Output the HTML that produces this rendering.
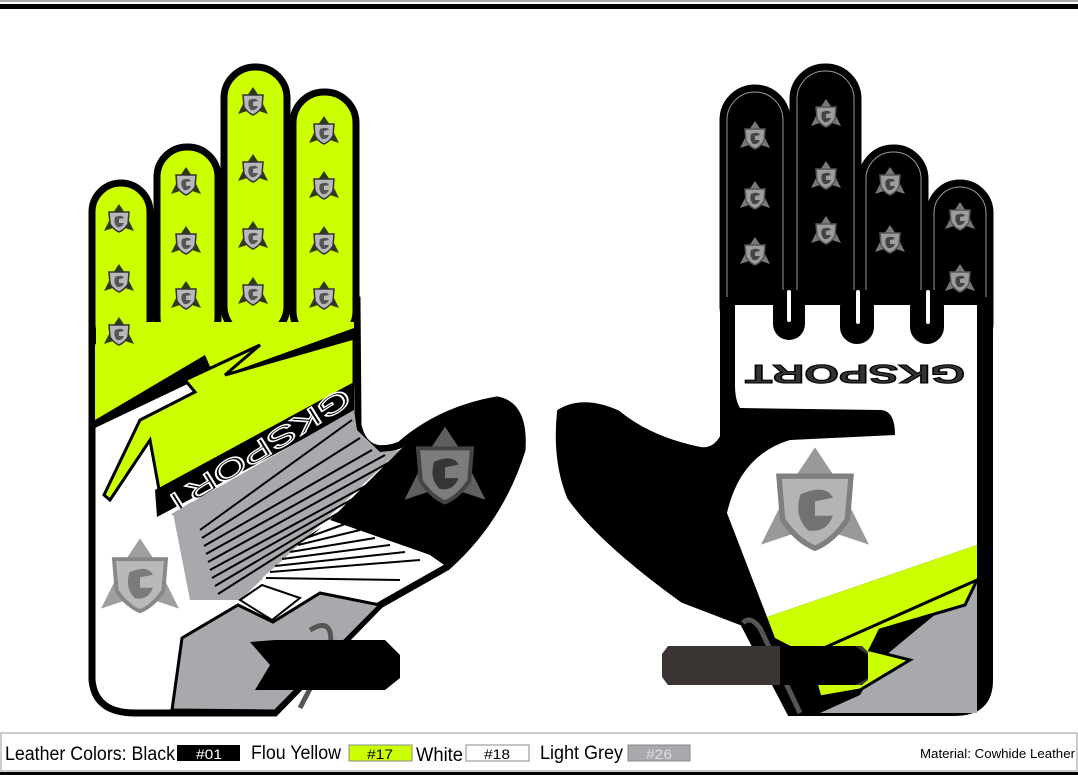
<!DOCTYPE html>
<html><head><meta charset="utf-8"><style>
html,body{margin:0;padding:0;background:#fff;}
body{width:1078px;height:775px;overflow:hidden;position:relative;font-family:"Liberation Sans",sans-serif;}
</style></head><body>
<svg width="1078" height="775" viewBox="0 0 1078 775" style="position:absolute;left:0;top:0">
<defs>
<g id="ic">
 <polygon points="0,-16 6,-7 15,11 0,6 -15,11 -6,-7" fill="#2f3a12"/>
 <path d="M-10,-8 L10,-8 L9,4 Q5,10 0,12 Q-5,10 -9,4 Z" fill="#b9b9bb" stroke="#333" stroke-width="1.5"/>
 <path d="M-4,-3 Q3,-6 5,-2 L0,-1 L0,3 L5,3 Q3,8 -2,7 Q-6,3 -4,-3Z" fill="#555"/>
</g>
<g id="ic2">
 <polygon points="0,-16 6,-7 15,11 0,6 -15,11 -6,-7" fill="#777"/>
 <path d="M-10,-8 L10,-8 L9,4 Q5,10 0,12 Q-5,10 -9,4 Z" fill="#9c9c9e" stroke="#555" stroke-width="1.5"/>
 <path d="M-4,-3 Q3,-6 5,-2 L0,-1 L0,3 L5,3 Q3,8 -2,7 Q-6,3 -4,-3Z" fill="#444"/>
</g>
</defs>
<rect x="0" y="0" width="1078" height="2" fill="#aaa"/>
<rect x="0" y="4" width="1078" height="5" fill="#000"/>

<!-- LEFT GLOVE -->
<path d="M92,300 L92,680 Q95,713 135,713 L275,713 L380,605 L447,567 Q500,520 522,450 Q525,405 497,400 Q440,410 400,445 Q365,458 358,425 L357,300 Z" fill="#fff" stroke="#000" stroke-width="7"/>
<polygon points="95,300 354,300 354,330 215,378 205,355 95,420" fill="#ccff00"/>
<g stroke="#000" stroke-width="7" fill="#ccff00">
 <rect x="92" y="183" width="58" height="170" rx="29"/>
 <rect x="157" y="147" width="61" height="200" rx="30"/>
 <rect x="224" y="67" width="63" height="270" rx="31"/>
 <rect x="293" y="92" width="63" height="250" rx="31"/>
</g>
<rect x="96" y="322" width="258" height="30" fill="#ccff00"/>
<polygon points="95,352 354,352 354,330 215,378 205,355 95,420" fill="#ccff00"/>
<polygon points="95,420 205,355 215,378 354,328 354,338 227,388 217,370 95,428" fill="#000"/>
<polygon points="354,338 354,385 160,495 150,440 110,500 104,495 140,420 195,392 185,380 260,345 225,375 354,338" fill="#ccff00" stroke="#000" stroke-width="3"/>
<g transform="translate(140,580) scale(2.6)"><use href="#ic2" opacity="0.7"/></g>
<polygon points="155,490 354,382 354,412 157,517" fill="#000"/>
<text x="0" y="0" transform="translate(256,450) rotate(148)" font-size="27" fill="#000" stroke="#fff" stroke-width="1.3" text-anchor="middle" dominant-baseline="middle" textLength="215" lengthAdjust="spacingAndGlyphs">GKSPORT</text>
<polygon points="173,513 354,410 357,430 380,452 400,450 240,600 225,600 190,600" fill="#a7a9ac"/>
<g stroke="#000" stroke-width="2">
 <line x1="200" y1="530" x2="352" y2="420"/><line x1="202" y1="538" x2="360" y2="438"/>
 <line x1="204" y1="546" x2="372" y2="450"/><line x1="206" y1="554" x2="385" y2="455"/>
 <line x1="208" y1="562" x2="390" y2="462"/><line x1="210" y1="570" x2="380" y2="478"/>
 <line x1="212" y1="578" x2="365" y2="492"/><line x1="215" y1="586" x2="350" y2="506"/>
 <line x1="218" y1="594" x2="335" y2="520"/>
</g>
<path d="M400,450 Q440,410 497,400 Q525,405 522,450 Q500,520 447,567 L430,555 L330,520 Z" fill="#000"/>
<g transform="translate(445,470) scale(2.7)"><use href="#ic2" opacity="0.8"/></g>
<polygon points="262,578 330,520 430,555 380,590" fill="#fff"/>
<g stroke="#000" stroke-width="2">
 <line x1="270" y1="572" x2="420" y2="560"/><line x1="275" y1="566" x2="405" y2="552"/>
 <line x1="282" y1="559" x2="390" y2="545"/><line x1="290" y1="552" x2="375" y2="538"/>
 <line x1="298" y1="545" x2="360" y2="530"/><line x1="306" y1="538" x2="345" y2="524"/>
 <line x1="266" y1="578" x2="400" y2="580"/>
</g>
<polygon points="240,600 262,585 300,598 272,620" fill="#fff" stroke="#000" stroke-width="2"/>
<polygon points="172,710 182,638 238,605 273,622 320,593 380,605 275,711" fill="#a7a9ac" stroke="#000" stroke-width="3"/>
<path d="M310,630 Q335,615 330,650 L300,708" fill="none" stroke="#555" stroke-width="5"/>
<polygon points="250,642 275,640 385,640 400,655 400,678 385,690 255,690 270,665" fill="#000"/>

<g>
<use href="#ic" x="119" y="220"/><use href="#ic" x="119" y="280"/><use href="#ic" x="119" y="333"/>
<use href="#ic" x="186" y="183"/><use href="#ic" x="186" y="242"/><use href="#ic" x="186" y="297"/>
<use href="#ic" x="253" y="103"/><use href="#ic" x="253" y="170"/><use href="#ic" x="253" y="237"/><use href="#ic" x="253" y="293"/>
<use href="#ic" x="324" y="132"/><use href="#ic" x="324" y="187"/><use href="#ic" x="324" y="242"/><use href="#ic" x="324" y="297"/>
</g>

<!-- RIGHT GLOVE -->
<g stroke="#000" stroke-width="7" fill="#000">
 <rect x="723" y="88" width="64" height="250" rx="32"/>
 <rect x="793" y="67" width="65" height="270" rx="32"/>
 <rect x="862" y="148" width="63" height="200" rx="31"/>
 <rect x="930" y="183" width="60" height="170" rx="30"/>
</g>
<g stroke="#fff" stroke-width="1" fill="none" opacity="0.6">
 <rect x="727" y="92" width="56" height="230" rx="28"/>
 <rect x="797" y="71" width="57" height="250" rx="28"/>
 <rect x="866" y="152" width="55" height="170" rx="27"/>
 <rect x="934" y="187" width="52" height="150" rx="26"/>
</g>
<path d="M723,300 L723,437 Q715,452 700,450 Q650,440 617,413 Q583,398 560,412 Q555,460 570,497 Q600,540 683,600 L743,623 L790,713 L955,713 Q990,713 990,680 L990,300 Z" fill="#000" stroke="#000" stroke-width="6"/>
<path d="M735,305 L977,305 L977,545 L767,617 L727,513 Q740,455 790,440 L895,435 Q895,410 880,410 L740,408 Q735,400 735,385 Z" fill="#fff"/>
<g fill="#000">
 <rect x="735" y="290" width="242" height="14"/>
 <rect x="773" y="290" width="32" height="50" rx="16"/>
 <rect x="840" y="290" width="34" height="54" rx="17"/>
 <rect x="910" y="290" width="34" height="54" rx="17"/>
</g>
<g fill="#fff"><rect x="787" y="290" width="4" height="32" rx="2"/><rect x="856" y="290" width="4" height="34" rx="2"/><rect x="926" y="290" width="4" height="34" rx="2"/></g>
<text x="0" y="0" transform="translate(855,372) rotate(180)" font-size="26" font-weight="bold" fill="#333" stroke="#000" stroke-width="1" text-anchor="middle" dominant-baseline="middle" textLength="220" lengthAdjust="spacingAndGlyphs">GKSPORT</text>
<g transform="translate(815,505) scale(3.6)"><use href="#ic2" opacity="0.75"/></g>
<polygon points="977,545 977,580 808,655 775,638 767,617" fill="#ccff00"/>
<polygon points="977,580 977,713 820,713 860,695 880,660" fill="#a7a9ac"/>
<polygon points="808,655 977,580 965,605 880,630 870,650 910,660 860,690 820,697" fill="#ccff00" stroke="#000" stroke-width="3"/>
<path d="M743,623 Q750,615 760,628 L800,713" fill="none" stroke="#555" stroke-width="5"/>
<polygon points="668,646 862,646 868,652 868,680 862,685 668,685 662,677 662,654" fill="#3a3533"/>
<polygon points="780,646 855,646 868,655 868,678 855,685 780,685" fill="#000"/>
<g>
<use href="#ic2" x="755" y="137"/><use href="#ic2" x="755" y="197"/><use href="#ic2" x="755" y="253"/>
<use href="#ic2" x="826" y="115"/><use href="#ic2" x="826" y="177"/><use href="#ic2" x="826" y="232"/>
<use href="#ic2" x="890" y="183"/><use href="#ic2" x="890" y="241"/>
<use href="#ic2" x="960" y="218"/><use href="#ic2" x="960" y="280"/>
</g>

<rect x="1" y="733" width="1076" height="38" fill="#fff" stroke="#999" stroke-width="1"/>
<rect x="0" y="772" width="1078" height="3" fill="#000"/>
<g font-family="'Liberation Sans',sans-serif" font-size="19" fill="#000">
 <text x="5" y="760" textLength="170" lengthAdjust="spacingAndGlyphs">Leather Colors: Black</text>
 <rect x="177" y="745" width="63" height="16" fill="#000"/>
 <text x="209" y="759" fill="#fff" font-size="14" text-anchor="middle" textLength="26" lengthAdjust="spacingAndGlyphs">#01</text>
 <text x="251" y="759" textLength="90" lengthAdjust="spacingAndGlyphs">Flou Yellow</text>
 <rect x="349" y="745" width="63" height="16" fill="#ccff00" stroke="#888"/>
 <text x="380" y="759" font-size="14" text-anchor="middle" textLength="26" lengthAdjust="spacingAndGlyphs">#17</text>
 <text x="416" y="761" textLength="47" lengthAdjust="spacingAndGlyphs">White</text>
 <rect x="466" y="745" width="63" height="16" fill="#fff" stroke="#888"/>
 <text x="497" y="759" font-size="14" text-anchor="middle" textLength="26" lengthAdjust="spacingAndGlyphs">#18</text>
 <text x="540" y="759" textLength="83" lengthAdjust="spacingAndGlyphs">Light Grey</text>
 <rect x="628" y="745" width="62" height="16" fill="#a7a9ac" stroke="#888"/>
 <text x="659" y="759" font-size="14" fill="#ddd" text-anchor="middle" textLength="26" lengthAdjust="spacingAndGlyphs">#26</text>
 <text x="1075" y="758" font-size="13" text-anchor="end" textLength="155" lengthAdjust="spacingAndGlyphs">Material: Cowhide Leather</text>
</g>
</svg>
</body></html>
